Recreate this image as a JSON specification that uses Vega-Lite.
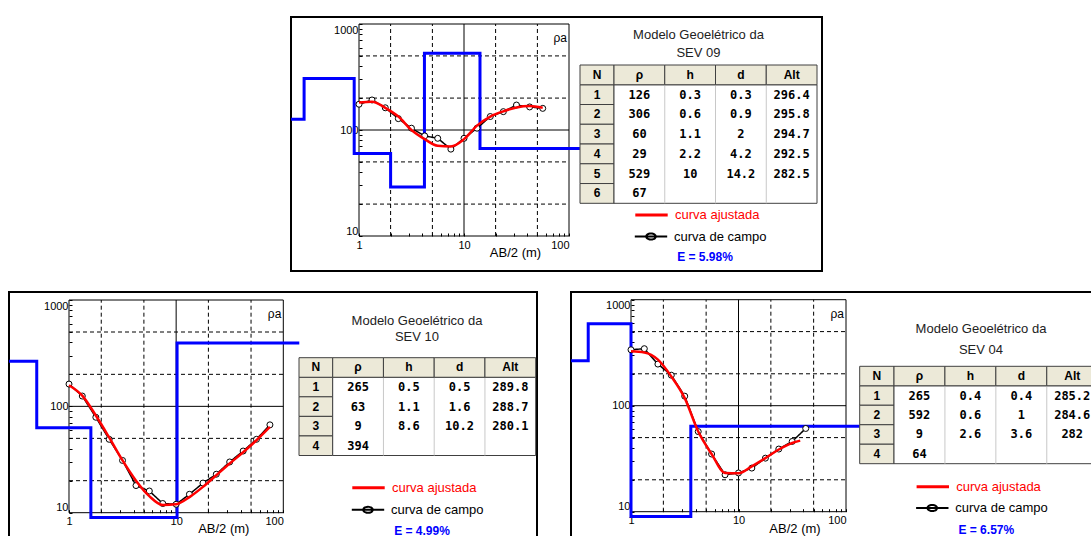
{
  "$schema": "https://vega.github.io/schema/vega-lite/v6.json",
  "background": "#ffffff",
  "padding": {"left": 1, "top": 16, "right": 0, "bottom": 0},
  "config": {"view": {"stroke": null}, "font": "Liberation Sans"},
  "datasets": {
    "grade_x": [{"v": 2}, {"v": 5}, {"v": 20}, {"v": 50}],
    "grade_y": [{"v": 20}, {"v": 50}, {"v": 200}, {"v": 500}],
    "grade_x_forte": [{"v": 10}],
    "grade_y_forte": [{"v": 100}],
    "um": [{"k": 1}],
    "cabecalho": [{"c": "rho", "t": "ρ"}, {"c": "h", "t": "h"}, {"c": "d", "t": "d"}, {"c": "Alt", "t": "Alt"}],
    "divisorias": [{"c": "h"}, {"c": "d"}, {"c": "Alt"}],
    "sev09_tabela": [
      {"N": "1", "rho": 126, "h": 0.3, "d": 0.3, "Alt": 296.4},
      {"N": "2", "rho": 306, "h": 0.6, "d": 0.9, "Alt": 295.8},
      {"N": "3", "rho": 60, "h": 1.1, "d": 2, "Alt": 294.7},
      {"N": "4", "rho": 29, "h": 2.2, "d": 4.2, "Alt": 292.5},
      {"N": "5", "rho": 529, "h": 10, "d": 14.2, "Alt": 282.5},
      {"N": "6", "rho": 67}
    ],
    "sev09_modelo": [
      {"ab": 0.225, "rho": 126}, {"ab": 0.3, "rho": 306}, {"ab": 0.9, "rho": 60}, {"ab": 2, "rho": 29},
      {"ab": 4.2, "rho": 529}, {"ab": 14.2, "rho": 67}, {"ab": 127, "rho": 67}
    ],
    "sev09_curvas": [
      {"ab": 1, "campo": 175, "ajustada": 182}, {"ab": 1.33, "campo": 192, "ajustada": 185},
      {"ab": 1.78, "campo": 162, "ajustada": 162}, {"ab": 2.37, "campo": 128, "ajustada": 134},
      {"ab": 3.16, "campo": 104, "ajustada": 100}, {"ab": 4.22, "campo": 88, "ajustada": 82},
      {"ab": 5.62, "campo": 83.5, "ajustada": 71}, {"ab": 7.5, "campo": 66, "ajustada": 70},
      {"ab": 10, "campo": 83.5, "ajustada": 82}, {"ab": 13.3, "campo": 104, "ajustada": 110},
      {"ab": 17.8, "campo": 134, "ajustada": 134}, {"ab": 23.7, "campo": 149, "ajustada": 150},
      {"ab": 31.6, "campo": 172, "ajustada": 163}, {"ab": 42.2, "campo": 165, "ajustada": 168},
      {"ab": 56.2, "campo": 160, "ajustada": 162}
    ],
    "sev10_tabela": [
      {"N": "1", "rho": 265, "h": 0.5, "d": 0.5, "Alt": 289.8},
      {"N": "2", "rho": 63, "h": 1.1, "d": 1.6, "Alt": 288.7},
      {"N": "3", "rho": 9, "h": 8.6, "d": 10.2, "Alt": 280.1},
      {"N": "4", "rho": 394}
    ],
    "sev10_modelo": [
      {"ab": 0.275, "rho": 265}, {"ab": 0.5, "rho": 63}, {"ab": 1.6, "rho": 9},
      {"ab": 10.2, "rho": 394}, {"ab": 141, "rho": 394}
    ],
    "sev10_curvas": [
      {"ab": 1, "campo": 162, "ajustada": 158}, {"ab": 1.33, "campo": 125, "ajustada": 126},
      {"ab": 1.78, "campo": 79, "ajustada": 82}, {"ab": 2.37, "campo": 49, "ajustada": 51},
      {"ab": 3.16, "campo": 31, "ajustada": 31}, {"ab": 4.22, "campo": 18, "ajustada": 20},
      {"ab": 5.62, "campo": 16, "ajustada": 14.3}, {"ab": 7.5, "campo": 12.2, "ajustada": 11.8},
      {"ab": 10, "campo": 12, "ajustada": 12}, {"ab": 13.3, "campo": 14.9, "ajustada": 14},
      {"ab": 17.8, "campo": 19, "ajustada": 17.5}, {"ab": 23.7, "campo": 23, "ajustada": 22.5},
      {"ab": 31.6, "campo": 30, "ajustada": 29}, {"ab": 42.2, "campo": 38, "ajustada": 37},
      {"ab": 56.2, "campo": 49, "ajustada": 48}, {"ab": 75, "campo": 67, "ajustada": 64}
    ],
    "sev04_tabela": [
      {"N": "1", "rho": 265, "h": 0.4, "d": 0.4, "Alt": 285.2},
      {"N": "2", "rho": 592, "h": 0.6, "d": 1, "Alt": 284.6},
      {"N": "3", "rho": 9, "h": 2.6, "d": 3.6, "Alt": 282},
      {"N": "4", "rho": 64}
    ],
    "sev04_modelo": [
      {"ab": 0.277, "rho": 265}, {"ab": 0.4, "rho": 592}, {"ab": 1, "rho": 9},
      {"ab": 3.6, "rho": 64}, {"ab": 134, "rho": 64}
    ],
    "sev04_curvas": [
      {"ab": 1, "campo": 337, "ajustada": 326}, {"ab": 1.33, "campo": 345, "ajustada": 318},
      {"ab": 1.78, "campo": 247, "ajustada": 272}, {"ab": 2.37, "campo": 194, "ajustada": 189},
      {"ab": 3.16, "campo": 123, "ajustada": 118}, {"ab": 4.22, "campo": 57, "ajustada": 57},
      {"ab": 5.62, "campo": 35, "ajustada": 35}, {"ab": 7.5, "campo": 22.3, "ajustada": 23.2},
      {"ab": 10, "campo": 23.2, "ajustada": 23}, {"ab": 13.3, "campo": 25.8, "ajustada": 26.8},
      {"ab": 17.8, "campo": 32, "ajustada": 32}, {"ab": 23.7, "campo": 39, "ajustada": 38.6},
      {"ab": 31.6, "campo": 46, "ajustada": 44.5}, {"ab": 37.5, "ajustada": 46.8},
      {"ab": 42.2, "campo": 61}
    ]
  },
  "spacing": 19,
  "resolve": {"scale": {"color": "independent", "strokeDash": "independent"}},
  "vconcat": [
    {
      "bounds": "flush",
      "spacing": 0,
      "resolve": {"scale": {"color": "independent", "strokeDash": "independent"}},
      "hconcat": [
        {"width": 282, "height": 254, "view": {"stroke": null, "fill": "#ffffff"}, "data": {"values": []}, "mark": {"type": "point", "opacity": 0}, "encoding": {}},
        {
          "width": 531, "height": 254,
          "view": {"stroke": "#000000", "strokeWidth": 2, "fill": "#ffffff"},
          "title": {"text": ["Modelo Geoelétrico da", "SEV 09"], "frame": "group", "anchor": "middle", "dx": 142, "offset": -43, "font": "Liberation Sans", "fontSize": 13, "fontWeight": "normal", "color": "#222222", "lineHeight": 18.4},
          "resolve": {"scale": {"x": "independent", "y": "independent"}},
          "layer": [
            {
              "layer": [
                {"data": {"name": "grade_x"}, "mark": {"type": "rule", "color": "#000000", "strokeWidth": 1, "strokeDash": [4, 3]},
                 "encoding": {"x": {"field": "v", "type": "quantitative", "scale": {"type": "log", "domain": [1, 100], "range": [68, 278], "nice": false}},
                              "y": {"datum": 10, "type": "quantitative", "scale": {"type": "log", "domain": [10, 1000], "range": [219, 7], "nice": false}},
                              "y2": {"datum": 1000}}},
                {"data": {"name": "grade_y"}, "mark": {"type": "rule", "color": "#000000", "strokeWidth": 1, "strokeDash": [4, 3]},
                 "encoding": {"y": {"field": "v", "type": "quantitative"}, "x": {"datum": 1, "type": "quantitative"}, "x2": {"datum": 100}}},
                {"data": {"name": "grade_x_forte"}, "mark": {"type": "rule", "color": "#000000", "strokeWidth": 1},
                 "encoding": {"x": {"field": "v", "type": "quantitative"}, "y": {"datum": 10, "type": "quantitative"}, "y2": {"datum": 1000}}},
                {"data": {"name": "grade_y_forte"}, "mark": {"type": "rule", "color": "#000000", "strokeWidth": 1},
                 "encoding": {"y": {"field": "v", "type": "quantitative"}, "x": {"datum": 1, "type": "quantitative"}, "x2": {"datum": 100}}},
                {"data": {"name": "um"}, "mark": {"type": "rect", "filled": false, "color": "#000000", "strokeWidth": 1},
                 "encoding": {
                   "x": {"datum": 1, "type": "quantitative", "scale": {"type": "log", "domain": [1, 100], "range": [68, 278], "nice": false},
                         "axis": {"values": [1, 2, 3, 4, 5, 6, 7, 8, 9, 10, 20, 30, 40, 50, 60, 70, 80, 90, 100],
                                  "labelExpr": "datum.value == 1 || datum.value == 10 || datum.value == 100 ? '' + datum.value : ''",
                                  "labelAlign": {"condition": {"test": "datum.value == 100", "value": "right"}, "value": "center"},
                                  "labelOverlap": false, "labelFlush": false, "labelBound": false, "domain": false, "grid": false,
                                  "ticks": true, "tickSize": -3, "tickColor": "#000000", "tickWidth": 1, "labelPadding": 6,
                                  "labelFont": "Liberation Sans", "labelFontSize": 11, "labelColor": "#000000", "offset": -35,
                                  "title": "AB/2 (m)", "titleFont": "Liberation Sans", "titleFontSize": 13, "titleFontWeight": "normal", "titleColor": "#000000",
                                  "titleX": 224, "titleY": 16, "titleAlign": "center", "titleBaseline": "middle"}},
                   "x2": {"datum": 100},
                   "y": {"datum": 10, "type": "quantitative", "scale": {"type": "log", "domain": [10, 1000], "range": [219, 7], "nice": false},
                         "axis": {"values": [10, 20, 30, 40, 50, 60, 70, 80, 90, 100, 200, 300, 400, 500, 600, 700, 800, 900, 1000],
                                  "labelExpr": "datum.value == 10 || datum.value == 100 || datum.value == 1000 ? '' + datum.value : ''",
                                  "labelBaseline": {"condition": [{"test": "datum.value == 1000", "value": "top"}, {"test": "datum.value == 10", "value": "bottom"}], "value": "middle"},
                                  "labelOverlap": false, "labelFlush": false, "labelBound": false, "domain": false, "grid": false,
                                  "ticks": true, "tickSize": -3, "tickColor": "#000000", "tickWidth": 1, "labelPadding": 4,
                                  "labelFont": "Liberation Sans", "labelFontSize": 11, "labelColor": "#000000", "offset": -68, "title": null}},
                   "y2": {"datum": 1000}}},
                {"data": {"name": "sev09_modelo"}, "mark": {"type": "line", "interpolate": "step-after", "color": "#0000ff", "strokeWidth": 3, "clip": false},
                 "encoding": {"x": {"field": "ab", "type": "quantitative"}, "y": {"field": "rho", "type": "quantitative"}}},
                {"data": {"name": "sev09_curvas"}, "transform": [{"fold": ["campo"], "as": ["serie", "rho"]}, {"filter": "isValid(datum.rho)"}],
                 "mark": {"type": "line", "color": "#000000", "strokeWidth": 1.5},
                 "encoding": {"x": {"field": "ab", "type": "quantitative"}, "y": {"field": "rho", "type": "quantitative"},
                              "strokeDash": {"field": "serie", "type": "nominal", "scale": {"domain": ["campo"], "range": [[1, 0]]},
                                             "legend": {"orient": "none", "legendX": 353, "legendY": 212.5, "title": "E = 5.98%", "titleOrient": "bottom", "titleAnchor": "middle",
                                                        "titleColor": "#0000ff", "titleFont": "Liberation Sans", "titleFontSize": 12, "titleFontWeight": "bold", "titlePadding": 8.5,
                                                        "labelExpr": "'curva de campo'", "labelColor": "#000000", "labelFont": "Liberation Sans", "labelFontSize": 13, "labelOffset": 16,
                                                        "symbolType": "M-2.7,0H2.7M-0.8,0A0.8,0.5,0,1,1,0.8,0A0.8,0.5,0,1,1,-0.8,0", "symbolSize": 144, "symbolStrokeWidth": 2,
                                                        "symbolStrokeColor": "#000000", "symbolFillColor": "transparent", "padding": 0}}}},
                {"data": {"name": "sev09_curvas"}, "mark": {"type": "point", "shape": "circle", "size": 36, "filled": true, "fill": "#ffffff", "stroke": "#000000", "strokeWidth": 1, "opacity": 1},
                 "encoding": {"x": {"field": "ab", "type": "quantitative"}, "y": {"field": "campo", "type": "quantitative"}}},
                {"data": {"name": "sev09_curvas"}, "transform": [{"fold": ["ajustada"], "as": ["serie", "rho"]}, {"filter": "isValid(datum.rho)"}],
                 "mark": {"type": "line", "interpolate": "monotone", "strokeWidth": 2.5},
                 "encoding": {"x": {"field": "ab", "type": "quantitative"}, "y": {"field": "rho", "type": "quantitative"},
                              "color": {"field": "serie", "type": "nominal", "scale": {"domain": ["ajustada"], "range": ["#ff0000"]},
                                        "legend": {"orient": "none", "legendX": 353, "legendY": 190.5, "title": null,
                                                   "labelExpr": "'curva ajustada'", "labelColor": "#ff0000", "labelFont": "Liberation Sans", "labelFontSize": 13, "labelOffset": 16,
                                                   "symbolType": "M-2.7,0H2.7", "symbolSize": 144, "symbolStrokeWidth": 3, "padding": 0}}}},
                {"data": {"name": "um"}, "mark": {"type": "text", "text": "ρa", "align": "right", "baseline": "middle", "dx": -2, "dy": 14, "font": "Liberation Sans", "fontSize": 12, "color": "#000000"},
                 "encoding": {"x": {"datum": 100, "type": "quantitative"}, "y": {"datum": 1000, "type": "quantitative"}}}
              ]
            },
            {
              "resolve": {"scale": {"x": "independent"}},
              "layer": [
                {
                  "layer": [
                    {"data": {"name": "sev09_tabela"}, "mark": {"type": "rect", "fill": "#ece9d8", "stroke": "#404040", "strokeWidth": 1},
                     "encoding": {"x": {"datum": "N", "type": "nominal", "scale": {"type": "band", "domain": ["N"], "range": [289, 323], "paddingInner": 0, "paddingOuter": 0}, "axis": null},
                                  "y": {"field": "N", "type": "nominal", "scale": {"type": "band", "domain": ["H", "1", "2", "3", "4", "5", "6"], "range": [48, 186.3], "paddingInner": 0, "paddingOuter": 0}, "axis": null}}},
                    {"data": {"name": "sev09_tabela"}, "mark": {"type": "text", "font": "Liberation Sans", "fontSize": 12, "fontWeight": "bold", "color": "#000000"},
                     "encoding": {"x": {"datum": "N", "type": "nominal", "axis": null}, "y": {"field": "N", "type": "nominal", "axis": null}, "text": {"field": "N"}}},
                    {"data": {"name": "um"}, "mark": {"type": "rect", "fill": "#ece9d8", "stroke": "#404040", "strokeWidth": 1},
                     "encoding": {"x": {"datum": "N", "type": "nominal", "axis": null}, "y": {"datum": "H", "type": "nominal", "axis": null}}},
                    {"data": {"name": "um"}, "mark": {"type": "text", "text": "N", "font": "Liberation Sans", "fontSize": 12, "fontWeight": "bold", "color": "#000000"},
                     "encoding": {"x": {"datum": "N", "type": "nominal", "axis": null}, "y": {"datum": "H", "type": "nominal", "axis": null}}}
                  ]
                },
                {
                  "layer": [
                    {"data": {"name": "um"}, "mark": {"type": "rect", "fill": "#ffffff", "stroke": "#404040", "strokeWidth": 1},
                     "encoding": {"x": {"datum": "rho", "type": "nominal", "bandPosition": 0, "scale": {"type": "band", "domain": ["rho", "h", "d", "Alt"], "range": [323, 526], "paddingInner": 0, "paddingOuter": 0}, "axis": null},
                                  "x2": {"datum": "Alt", "bandPosition": 1},
                                  "y": {"datum": "1", "type": "nominal", "bandPosition": 0, "axis": null},
                                  "y2": {"datum": "6", "bandPosition": 1}}},
                    {"data": {"name": "divisorias"}, "mark": {"type": "rule", "color": "#c8c8c8", "strokeWidth": 1},
                     "encoding": {"x": {"field": "c", "type": "nominal", "bandPosition": 0, "axis": null},
                                  "y": {"datum": "1", "type": "nominal", "bandPosition": 0, "axis": null},
                                  "y2": {"datum": "6", "bandPosition": 1}}},
                    {"data": {"name": "cabecalho"}, "mark": {"type": "rect", "fill": "#ece9d8", "stroke": "#404040", "strokeWidth": 1},
                     "encoding": {"x": {"field": "c", "type": "nominal", "axis": null}, "y": {"datum": "H", "type": "nominal", "axis": null}}},
                    {"data": {"name": "cabecalho"}, "mark": {"type": "text", "font": "Liberation Sans", "fontSize": 12, "fontWeight": "bold", "color": "#000000"},
                     "encoding": {"x": {"field": "c", "type": "nominal", "axis": null}, "y": {"datum": "H", "type": "nominal", "axis": null}, "text": {"field": "t"}}},
                    {"data": {"name": "sev09_tabela"}, "transform": [{"fold": ["rho", "h", "d", "Alt"], "as": ["c", "v"]}, {"filter": "isValid(datum.v)"}],
                     "mark": {"type": "text", "font": "DejaVu Sans Mono", "fontSize": 12, "fontWeight": "bold", "color": "#000000"},
                     "encoding": {"x": {"field": "c", "type": "nominal", "axis": null}, "y": {"field": "N", "type": "nominal", "axis": null}, "text": {"field": "v", "type": "nominal"}}}
                  ]
                }
              ]
            }
          ]
        }
      ]
    },
    {
      "bounds": "flush",
      "spacing": 34,
      "resolve": {"scale": {"color": "independent", "strokeDash": "independent"}},
      "hconcat": [
        {
          "width": 528, "height": 248,
          "view": {"stroke": "#000000", "strokeWidth": 2, "fill": "#ffffff"},
          "title": {"text": ["Modelo Geoelétrico da", "SEV 10"], "frame": "group", "anchor": "middle", "dx": 144, "offset": -52, "font": "Liberation Sans", "fontSize": 13, "fontWeight": "normal", "color": "#222222", "lineHeight": 15.7},
          "resolve": {"scale": {"x": "independent", "y": "independent"}},
          "layer": [
            {
              "layer": [
                {"data": {"name": "grade_x"}, "mark": {"type": "rule", "color": "#000000", "strokeWidth": 1, "strokeDash": [4, 3]},
                 "encoding": {"x": {"field": "v", "type": "quantitative", "scale": {"type": "log", "domain": [1, 100], "range": [60, 274.3], "nice": false}},
                              "y": {"datum": 10, "type": "quantitative", "scale": {"type": "log", "domain": [10, 1000], "range": [220.7, 8], "nice": false}},
                              "y2": {"datum": 1000}}},
                {"data": {"name": "grade_y"}, "mark": {"type": "rule", "color": "#000000", "strokeWidth": 1, "strokeDash": [4, 3]},
                 "encoding": {"y": {"field": "v", "type": "quantitative"}, "x": {"datum": 1, "type": "quantitative"}, "x2": {"datum": 100}}},
                {"data": {"name": "grade_x_forte"}, "mark": {"type": "rule", "color": "#000000", "strokeWidth": 1},
                 "encoding": {"x": {"field": "v", "type": "quantitative"}, "y": {"datum": 10, "type": "quantitative"}, "y2": {"datum": 1000}}},
                {"data": {"name": "grade_y_forte"}, "mark": {"type": "rule", "color": "#000000", "strokeWidth": 1},
                 "encoding": {"y": {"field": "v", "type": "quantitative"}, "x": {"datum": 1, "type": "quantitative"}, "x2": {"datum": 100}}},
                {"data": {"name": "um"}, "mark": {"type": "rect", "filled": false, "color": "#000000", "strokeWidth": 1},
                 "encoding": {
                   "x": {"datum": 1, "type": "quantitative", "scale": {"type": "log", "domain": [1, 100], "range": [60, 274.3], "nice": false},
                         "axis": {"values": [1, 2, 3, 4, 5, 6, 7, 8, 9, 10, 20, 30, 40, 50, 60, 70, 80, 90, 100],
                                  "labelExpr": "datum.value == 1 || datum.value == 10 || datum.value == 100 ? '' + datum.value : ''",
                                  "labelAlign": {"condition": {"test": "datum.value == 100", "value": "right"}, "value": "center"},
                                  "labelOverlap": false, "labelFlush": false, "labelBound": false, "domain": false, "grid": false,
                                  "ticks": true, "tickSize": -3, "tickColor": "#000000", "tickWidth": 1, "labelPadding": 6,
                                  "labelFont": "Liberation Sans", "labelFontSize": 11, "labelColor": "#000000", "offset": -27.3,
                                  "title": "AB/2 (m)", "titleFont": "Liberation Sans", "titleFontSize": 13, "titleFontWeight": "normal", "titleColor": "#000000",
                                  "titleX": 214.3, "titleY": 15.6, "titleAlign": "center", "titleBaseline": "middle"}},
                   "x2": {"datum": 100},
                   "y": {"datum": 10, "type": "quantitative", "scale": {"type": "log", "domain": [10, 1000], "range": [220.7, 8], "nice": false},
                         "axis": {"values": [10, 20, 30, 40, 50, 60, 70, 80, 90, 100, 200, 300, 400, 500, 600, 700, 800, 900, 1000],
                                  "labelExpr": "datum.value == 10 || datum.value == 100 || datum.value == 1000 ? '' + datum.value : ''",
                                  "labelBaseline": {"condition": [{"test": "datum.value == 1000", "value": "top"}, {"test": "datum.value == 10", "value": "bottom"}], "value": "middle"},
                                  "labelOverlap": false, "labelFlush": false, "labelBound": false, "domain": false, "grid": false,
                                  "ticks": true, "tickSize": -3, "tickColor": "#000000", "tickWidth": 1, "labelPadding": 4,
                                  "labelFont": "Liberation Sans", "labelFontSize": 11, "labelColor": "#000000", "offset": -60, "title": null}},
                   "y2": {"datum": 1000}}},
                {"data": {"name": "sev10_modelo"}, "mark": {"type": "line", "interpolate": "step-after", "color": "#0000ff", "strokeWidth": 3, "clip": false},
                 "encoding": {"x": {"field": "ab", "type": "quantitative"}, "y": {"field": "rho", "type": "quantitative"}}},
                {"data": {"name": "sev10_curvas"}, "transform": [{"fold": ["campo"], "as": ["serie", "rho"]}, {"filter": "isValid(datum.rho)"}],
                 "mark": {"type": "line", "color": "#000000", "strokeWidth": 1.5},
                 "encoding": {"x": {"field": "ab", "type": "quantitative"}, "y": {"field": "rho", "type": "quantitative"},
                              "strokeDash": {"field": "serie", "type": "nominal", "scale": {"domain": ["campo"], "range": [[1, 0]]},
                                             "legend": {"orient": "none", "legendX": 352, "legendY": 210.8, "title": "E = 4.99%", "titleOrient": "bottom", "titleAnchor": "middle",
                                                        "titleColor": "#0000ff", "titleFont": "Liberation Sans", "titleFontSize": 12, "titleFontWeight": "bold", "titlePadding": 8.9,
                                                        "labelExpr": "'curva de campo'", "labelColor": "#000000", "labelFont": "Liberation Sans", "labelFontSize": 13, "labelOffset": 16,
                                                        "symbolType": "M-2.7,0H2.7M-0.8,0A0.8,0.5,0,1,1,0.8,0A0.8,0.5,0,1,1,-0.8,0", "symbolSize": 144, "symbolStrokeWidth": 2,
                                                        "symbolStrokeColor": "#000000", "symbolFillColor": "transparent", "padding": 0}}}},
                {"data": {"name": "sev10_curvas"}, "mark": {"type": "point", "shape": "circle", "size": 36, "filled": true, "fill": "#ffffff", "stroke": "#000000", "strokeWidth": 1, "opacity": 1},
                 "encoding": {"x": {"field": "ab", "type": "quantitative"}, "y": {"field": "campo", "type": "quantitative"}}},
                {"data": {"name": "sev10_curvas"}, "transform": [{"fold": ["ajustada"], "as": ["serie", "rho"]}, {"filter": "isValid(datum.rho)"}],
                 "mark": {"type": "line", "interpolate": "monotone", "strokeWidth": 2.5},
                 "encoding": {"x": {"field": "ab", "type": "quantitative"}, "y": {"field": "rho", "type": "quantitative"},
                              "color": {"field": "serie", "type": "nominal", "scale": {"domain": ["ajustada"], "range": ["#ff0000"]},
                                        "legend": {"orient": "none", "legendX": 352, "legendY": 188.2, "title": null,
                                                   "labelExpr": "'curva ajustada'", "labelColor": "#ff0000", "labelFont": "Liberation Sans", "labelFontSize": 13, "labelOffset": 16,
                                                   "symbolType": "M-2.7,0H2.7", "symbolSize": 144, "symbolStrokeWidth": 3, "padding": 0}}}},
                {"data": {"name": "um"}, "mark": {"type": "text", "text": "ρa", "align": "right", "baseline": "middle", "dx": -2, "dy": 14, "font": "Liberation Sans", "fontSize": 12, "color": "#000000"},
                 "encoding": {"x": {"datum": 100, "type": "quantitative"}, "y": {"datum": 1000, "type": "quantitative"}}}
              ]
            },
            {
              "resolve": {"scale": {"x": "independent"}},
              "layer": [
                {
                  "layer": [
                    {"data": {"name": "sev10_tabela"}, "mark": {"type": "rect", "fill": "#ece9d8", "stroke": "#404040", "strokeWidth": 1},
                     "encoding": {"x": {"datum": "N", "type": "nominal", "scale": {"type": "band", "domain": ["N"], "range": [290, 323.7], "paddingInner": 0, "paddingOuter": 0}, "axis": null},
                                  "y": {"field": "N", "type": "nominal", "scale": {"type": "band", "domain": ["H", "1", "2", "3", "4"], "range": [65.7, 163.5], "paddingInner": 0, "paddingOuter": 0}, "axis": null}}},
                    {"data": {"name": "sev10_tabela"}, "mark": {"type": "text", "font": "Liberation Sans", "fontSize": 12, "fontWeight": "bold", "color": "#000000"},
                     "encoding": {"x": {"datum": "N", "type": "nominal", "axis": null}, "y": {"field": "N", "type": "nominal", "axis": null}, "text": {"field": "N"}}},
                    {"data": {"name": "um"}, "mark": {"type": "rect", "fill": "#ece9d8", "stroke": "#404040", "strokeWidth": 1},
                     "encoding": {"x": {"datum": "N", "type": "nominal", "axis": null}, "y": {"datum": "H", "type": "nominal", "axis": null}}},
                    {"data": {"name": "um"}, "mark": {"type": "text", "text": "N", "font": "Liberation Sans", "fontSize": 12, "fontWeight": "bold", "color": "#000000"},
                     "encoding": {"x": {"datum": "N", "type": "nominal", "axis": null}, "y": {"datum": "H", "type": "nominal", "axis": null}}}
                  ]
                },
                {
                  "layer": [
                    {"data": {"name": "um"}, "mark": {"type": "rect", "fill": "#ffffff", "stroke": "#404040", "strokeWidth": 1},
                     "encoding": {"x": {"datum": "rho", "type": "nominal", "bandPosition": 0, "scale": {"type": "band", "domain": ["rho", "h", "d", "Alt"], "range": [323.7, 526.7], "paddingInner": 0, "paddingOuter": 0}, "axis": null},
                                  "x2": {"datum": "Alt", "bandPosition": 1},
                                  "y": {"datum": "1", "type": "nominal", "bandPosition": 0, "axis": null},
                                  "y2": {"datum": "4", "bandPosition": 1}}},
                    {"data": {"name": "divisorias"}, "mark": {"type": "rule", "color": "#c8c8c8", "strokeWidth": 1},
                     "encoding": {"x": {"field": "c", "type": "nominal", "bandPosition": 0, "axis": null},
                                  "y": {"datum": "1", "type": "nominal", "bandPosition": 0, "axis": null},
                                  "y2": {"datum": "4", "bandPosition": 1}}},
                    {"data": {"name": "cabecalho"}, "mark": {"type": "rect", "fill": "#ece9d8", "stroke": "#404040", "strokeWidth": 1},
                     "encoding": {"x": {"field": "c", "type": "nominal", "axis": null}, "y": {"datum": "H", "type": "nominal", "axis": null}}},
                    {"data": {"name": "cabecalho"}, "mark": {"type": "text", "font": "Liberation Sans", "fontSize": 12, "fontWeight": "bold", "color": "#000000"},
                     "encoding": {"x": {"field": "c", "type": "nominal", "axis": null}, "y": {"datum": "H", "type": "nominal", "axis": null}, "text": {"field": "t"}}},
                    {"data": {"name": "sev10_tabela"}, "transform": [{"fold": ["rho", "h", "d", "Alt"], "as": ["c", "v"]}, {"filter": "isValid(datum.v)"}],
                     "mark": {"type": "text", "font": "DejaVu Sans Mono", "fontSize": 12, "fontWeight": "bold", "color": "#000000"},
                     "encoding": {"x": {"field": "c", "type": "nominal", "axis": null}, "y": {"field": "N", "type": "nominal", "axis": null}, "text": {"field": "v", "type": "nominal"}}}
                  ]
                }
              ]
            }
          ]
        },
        {
          "width": 522, "height": 248,
          "view": {"stroke": "#000000", "strokeWidth": 2, "fill": "#ffffff"},
          "title": {"text": ["Modelo Geoelétrico da", "SEV 04"], "frame": "group", "anchor": "middle", "dx": 149, "offset": -64.7, "font": "Liberation Sans", "fontSize": 13, "fontWeight": "normal", "color": "#222222", "lineHeight": 20.3},
          "resolve": {"scale": {"x": "independent", "y": "independent"}},
          "layer": [
            {
              "layer": [
                {"data": {"name": "grade_x"}, "mark": {"type": "rule", "color": "#000000", "strokeWidth": 1, "strokeDash": [4, 3]},
                 "encoding": {"x": {"field": "v", "type": "quantitative", "scale": {"type": "log", "domain": [1, 100], "range": [60, 275], "nice": false}},
                              "y": {"datum": 10, "type": "quantitative", "scale": {"type": "log", "domain": [10, 1000], "range": [219.7, 7.7], "nice": false}},
                              "y2": {"datum": 1000}}},
                {"data": {"name": "grade_y"}, "mark": {"type": "rule", "color": "#000000", "strokeWidth": 1, "strokeDash": [4, 3]},
                 "encoding": {"y": {"field": "v", "type": "quantitative"}, "x": {"datum": 1, "type": "quantitative"}, "x2": {"datum": 100}}},
                {"data": {"name": "grade_x_forte"}, "mark": {"type": "rule", "color": "#000000", "strokeWidth": 1},
                 "encoding": {"x": {"field": "v", "type": "quantitative"}, "y": {"datum": 10, "type": "quantitative"}, "y2": {"datum": 1000}}},
                {"data": {"name": "grade_y_forte"}, "mark": {"type": "rule", "color": "#000000", "strokeWidth": 1},
                 "encoding": {"y": {"field": "v", "type": "quantitative"}, "x": {"datum": 1, "type": "quantitative"}, "x2": {"datum": 100}}},
                {"data": {"name": "um"}, "mark": {"type": "rect", "filled": false, "color": "#000000", "strokeWidth": 1},
                 "encoding": {
                   "x": {"datum": 1, "type": "quantitative", "scale": {"type": "log", "domain": [1, 100], "range": [60, 275], "nice": false},
                         "axis": {"values": [1, 2, 3, 4, 5, 6, 7, 8, 9, 10, 20, 30, 40, 50, 60, 70, 80, 90, 100],
                                  "labelExpr": "datum.value == 1 || datum.value == 10 || datum.value == 100 ? '' + datum.value : ''",
                                  "labelAlign": {"condition": {"test": "datum.value == 100", "value": "right"}, "value": "center"},
                                  "labelOverlap": false, "labelFlush": false, "labelBound": false, "domain": false, "grid": false,
                                  "ticks": true, "tickSize": -3, "tickColor": "#000000", "tickWidth": 1, "labelPadding": 6,
                                  "labelFont": "Liberation Sans", "labelFontSize": 11, "labelColor": "#000000", "offset": -28.3,
                                  "title": "AB/2 (m)", "titleFont": "Liberation Sans", "titleFontSize": 13, "titleFontWeight": "normal", "titleColor": "#000000",
                                  "titleX": 223.5, "titleY": 16.3, "titleAlign": "center", "titleBaseline": "middle"}},
                   "x2": {"datum": 100},
                   "y": {"datum": 10, "type": "quantitative", "scale": {"type": "log", "domain": [10, 1000], "range": [219.7, 7.7], "nice": false},
                         "axis": {"values": [10, 20, 30, 40, 50, 60, 70, 80, 90, 100, 200, 300, 400, 500, 600, 700, 800, 900, 1000],
                                  "labelExpr": "datum.value == 10 || datum.value == 100 || datum.value == 1000 ? '' + datum.value : ''",
                                  "labelBaseline": {"condition": [{"test": "datum.value == 1000", "value": "top"}, {"test": "datum.value == 10", "value": "bottom"}], "value": "middle"},
                                  "labelOverlap": false, "labelFlush": false, "labelBound": false, "domain": false, "grid": false,
                                  "ticks": true, "tickSize": -3, "tickColor": "#000000", "tickWidth": 1, "labelPadding": 4,
                                  "labelFont": "Liberation Sans", "labelFontSize": 11, "labelColor": "#000000", "offset": -60, "title": null}},
                   "y2": {"datum": 1000}}},
                {"data": {"name": "sev04_modelo"}, "mark": {"type": "line", "interpolate": "step-after", "color": "#0000ff", "strokeWidth": 3, "clip": false},
                 "encoding": {"x": {"field": "ab", "type": "quantitative"}, "y": {"field": "rho", "type": "quantitative"}}},
                {"data": {"name": "sev04_curvas"}, "transform": [{"fold": ["campo"], "as": ["serie", "rho"]}, {"filter": "isValid(datum.rho)"}],
                 "mark": {"type": "line", "color": "#000000", "strokeWidth": 1.5},
                 "encoding": {"x": {"field": "ab", "type": "quantitative"}, "y": {"field": "rho", "type": "quantitative"},
                              "strokeDash": {"field": "serie", "type": "nominal", "scale": {"domain": ["campo"], "range": [[1, 0]]},
                                             "legend": {"orient": "none", "legendX": 354.3, "legendY": 209, "title": "E = 6.57%", "titleOrient": "bottom", "titleAnchor": "middle",
                                                        "titleColor": "#0000ff", "titleFont": "Liberation Sans", "titleFontSize": 12, "titleFontWeight": "bold", "titlePadding": 10,
                                                        "labelExpr": "'curva de campo'", "labelColor": "#000000", "labelFont": "Liberation Sans", "labelFontSize": 13, "labelOffset": 16,
                                                        "symbolType": "M-2.7,0H2.7M-0.8,0A0.8,0.5,0,1,1,0.8,0A0.8,0.5,0,1,1,-0.8,0", "symbolSize": 144, "symbolStrokeWidth": 2,
                                                        "symbolStrokeColor": "#000000", "symbolFillColor": "transparent", "padding": 0}}}},
                {"data": {"name": "sev04_curvas"}, "mark": {"type": "point", "shape": "circle", "size": 36, "filled": true, "fill": "#ffffff", "stroke": "#000000", "strokeWidth": 1, "opacity": 1},
                 "encoding": {"x": {"field": "ab", "type": "quantitative"}, "y": {"field": "campo", "type": "quantitative"}}},
                {"data": {"name": "sev04_curvas"}, "transform": [{"fold": ["ajustada"], "as": ["serie", "rho"]}, {"filter": "isValid(datum.rho)"}],
                 "mark": {"type": "line", "interpolate": "monotone", "strokeWidth": 2.5},
                 "encoding": {"x": {"field": "ab", "type": "quantitative"}, "y": {"field": "rho", "type": "quantitative"},
                              "color": {"field": "serie", "type": "nominal", "scale": {"domain": ["ajustada"], "range": ["#ff0000"]},
                                        "legend": {"orient": "none", "legendX": 354.3, "legendY": 187.2, "title": null,
                                                   "labelExpr": "'curva ajustada'", "labelColor": "#ff0000", "labelFont": "Liberation Sans", "labelFontSize": 13, "labelOffset": 16,
                                                   "symbolType": "M-2.7,0H2.7", "symbolSize": 144, "symbolStrokeWidth": 3, "padding": 0}}}},
                {"data": {"name": "um"}, "mark": {"type": "text", "text": "ρa", "align": "right", "baseline": "middle", "dx": -2, "dy": 14, "font": "Liberation Sans", "fontSize": 12, "color": "#000000"},
                 "encoding": {"x": {"datum": 100, "type": "quantitative"}, "y": {"datum": 1000, "type": "quantitative"}}}
              ]
            },
            {
              "resolve": {"scale": {"x": "independent"}},
              "layer": [
                {
                  "layer": [
                    {"data": {"name": "sev04_tabela"}, "mark": {"type": "rect", "fill": "#ece9d8", "stroke": "#404040", "strokeWidth": 1},
                     "encoding": {"x": {"datum": "N", "type": "nominal", "scale": {"type": "band", "domain": ["N"], "range": [288.7, 323], "paddingInner": 0, "paddingOuter": 0}, "axis": null},
                                  "y": {"field": "N", "type": "nominal", "scale": {"type": "band", "domain": ["H", "1", "2", "3", "4"], "range": [74.3, 171.7], "paddingInner": 0, "paddingOuter": 0}, "axis": null}}},
                    {"data": {"name": "sev04_tabela"}, "mark": {"type": "text", "font": "Liberation Sans", "fontSize": 12, "fontWeight": "bold", "color": "#000000"},
                     "encoding": {"x": {"datum": "N", "type": "nominal", "axis": null}, "y": {"field": "N", "type": "nominal", "axis": null}, "text": {"field": "N"}}},
                    {"data": {"name": "um"}, "mark": {"type": "rect", "fill": "#ece9d8", "stroke": "#404040", "strokeWidth": 1},
                     "encoding": {"x": {"datum": "N", "type": "nominal", "axis": null}, "y": {"datum": "H", "type": "nominal", "axis": null}}},
                    {"data": {"name": "um"}, "mark": {"type": "text", "text": "N", "font": "Liberation Sans", "fontSize": 12, "fontWeight": "bold", "color": "#000000"},
                     "encoding": {"x": {"datum": "N", "type": "nominal", "axis": null}, "y": {"datum": "H", "type": "nominal", "axis": null}}}
                  ]
                },
                {
                  "layer": [
                    {"data": {"name": "um"}, "mark": {"type": "rect", "fill": "#ffffff", "stroke": "#404040", "strokeWidth": 1},
                     "encoding": {"x": {"datum": "rho", "type": "nominal", "bandPosition": 0, "scale": {"type": "band", "domain": ["rho", "h", "d", "Alt"], "range": [323, 526.7], "paddingInner": 0, "paddingOuter": 0}, "axis": null},
                                  "x2": {"datum": "Alt", "bandPosition": 1},
                                  "y": {"datum": "1", "type": "nominal", "bandPosition": 0, "axis": null},
                                  "y2": {"datum": "4", "bandPosition": 1}}},
                    {"data": {"name": "divisorias"}, "mark": {"type": "rule", "color": "#c8c8c8", "strokeWidth": 1},
                     "encoding": {"x": {"field": "c", "type": "nominal", "bandPosition": 0, "axis": null},
                                  "y": {"datum": "1", "type": "nominal", "bandPosition": 0, "axis": null},
                                  "y2": {"datum": "4", "bandPosition": 1}}},
                    {"data": {"name": "cabecalho"}, "mark": {"type": "rect", "fill": "#ece9d8", "stroke": "#404040", "strokeWidth": 1},
                     "encoding": {"x": {"field": "c", "type": "nominal", "axis": null}, "y": {"datum": "H", "type": "nominal", "axis": null}}},
                    {"data": {"name": "cabecalho"}, "mark": {"type": "text", "font": "Liberation Sans", "fontSize": 12, "fontWeight": "bold", "color": "#000000"},
                     "encoding": {"x": {"field": "c", "type": "nominal", "axis": null}, "y": {"datum": "H", "type": "nominal", "axis": null}, "text": {"field": "t"}}},
                    {"data": {"name": "sev04_tabela"}, "transform": [{"fold": ["rho", "h", "d", "Alt"], "as": ["c", "v"]}, {"filter": "isValid(datum.v)"}],
                     "mark": {"type": "text", "font": "DejaVu Sans Mono", "fontSize": 12, "fontWeight": "bold", "color": "#000000"},
                     "encoding": {"x": {"field": "c", "type": "nominal", "axis": null}, "y": {"field": "N", "type": "nominal", "axis": null}, "text": {"field": "v", "type": "nominal"}}}
                  ]
                }
              ]
            }
          ]
        }
      ]
    }
  ]
}
